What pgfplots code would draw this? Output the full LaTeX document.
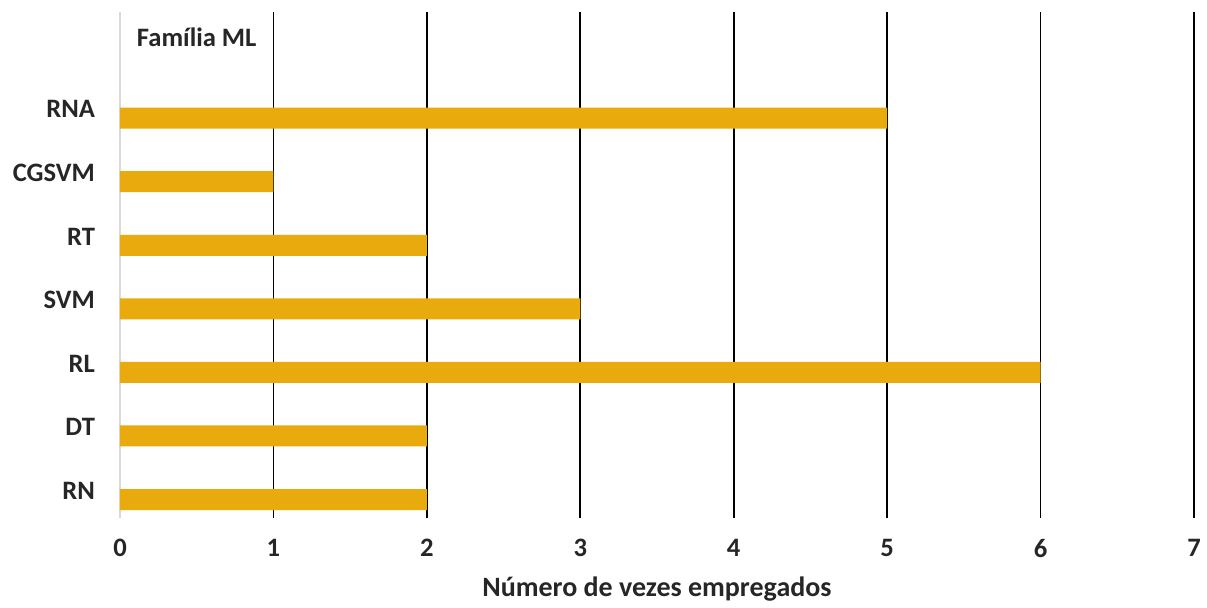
\documentclass[border=0pt]{standalone}
\usepackage{fontspec}
\setmainfont{Carlito}
\usepackage{pgfplots}
\pgfplotsset{compat=1.18}
\definecolor{barFill}{HTML}{E8AA0C}
\definecolor{zeroline}{HTML}{D9D9D9}
\begin{document}
\begin{tikzpicture}
\useasboundingbox (-60pt,-45pt) rectangle (543.5pt,259pt);
\begin{axis}[
  at={(0pt,0pt)}, anchor=south west,
  scale only axis, width=537pt, height=253pt,
  xmin=0, xmax=7, ymin=-0.43, ymax=7.53,
  xtick={1,...,7}, extra x ticks={0},
  extra x tick style={major grid style={zeroline, line width=0.8pt}},
  xmajorgrids, major grid style={black, line width=0.8pt},
  ytick={0,...,6},
  yticklabels={RN,DT,RL,SVM,RT,CGSVM,RNA},
  axis line style={draw=none},
  major tick length=0pt,
  tick label style={font=\fontsize{13.3}{15}\selectfont\bfseries, text=black!85},
  /pgf/number format/assume math mode=true,
  xticklabel style={yshift=-7pt},
  yticklabel style={xshift=-9pt},
  xlabel={Número de vezes empregados},
  xlabel style={font=\fontsize{14}{16}\selectfont\bfseries, text=black!85, yshift=-3pt},
  clip=false,
]
\addplot[xbar, bar width=0.33, draw=none, fill=barFill]
  coordinates {(2,-0.14) (2,0.86) (6,1.86) (3,2.86) (2,3.86) (1,4.86) (5,5.86)};
\node[font=\fontsize{13.3}{15}\selectfont\bfseries, text=black!85] at (axis cs:0.5,7.13) {Família ML};
\end{axis}
\end{tikzpicture}
\end{document}
